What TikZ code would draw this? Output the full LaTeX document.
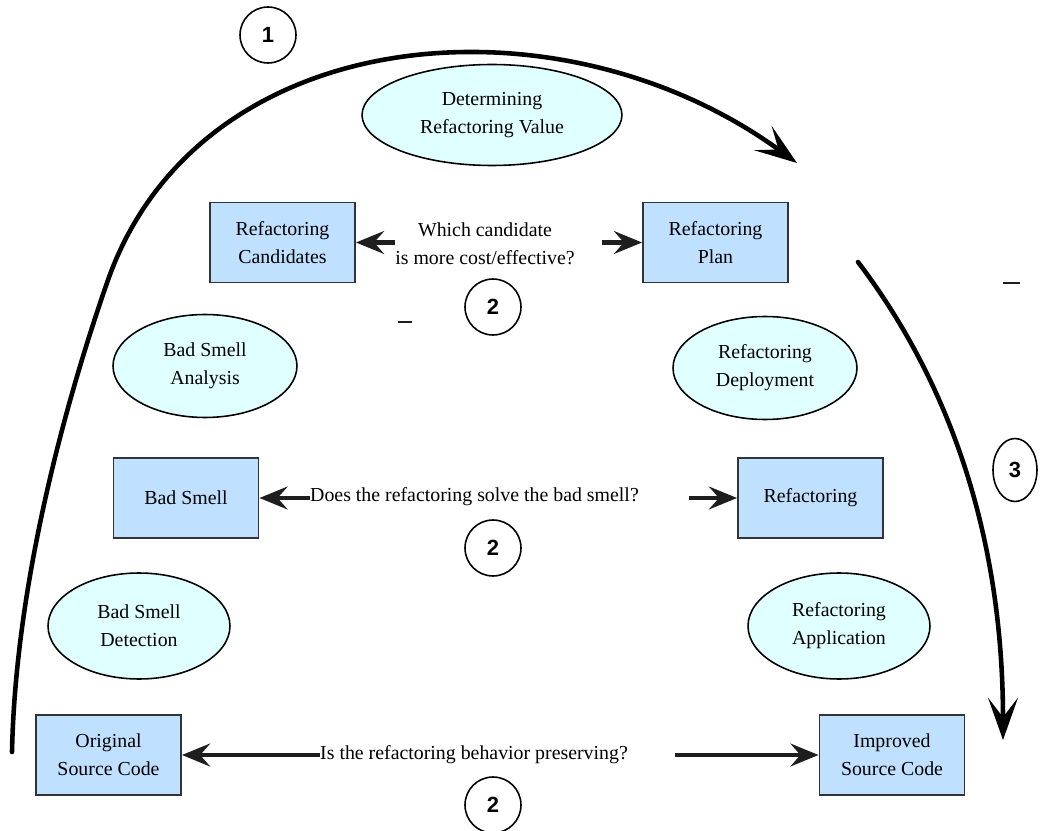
\documentclass[tikz,border=0pt]{standalone}
\usepackage{fontspec}
\setmainfont{Liberation Serif}
\newfontfamily\labelserif{Liberation Serif}
\newfontfamily\numfont{Liberation Sans}
\usetikzlibrary{arrows.meta,shapes.geometric,calc}

\definecolor{boxfill}{RGB}{191,224,255}
\definecolor{boxline}{RGB}{50,50,55}
\definecolor{ovalfill}{RGB}{224,255,255}
\definecolor{ink}{RGB}{30,30,30}

\tikzset{
  txt/.style={font=\labelserif\fontsize{11.3}{15.9}\selectfont, align=center, text=black},
  stagebox/.style={txt, draw=boxline, line width=1.1pt, fill=boxfill,
    minimum width=2.9cm, minimum height=1.6cm, inner sep=0pt},
  activity/.style={txt, ellipse, draw=black, line width=0.9pt, fill=ovalfill, inner sep=0pt},
  question/.style={txt, inner sep=0pt},
  stepnum/.style={circle, draw=black, line width=0.9pt, minimum size=1.12cm, inner sep=0pt,
    font=\numfont\bfseries\fontsize{12.5}{14}\selectfont},
  conn/.style={draw=ink, line width=2.3pt,
    -{Stealth[length=16pt, width=13pt, inset=5.7pt]}},
  flow/.style={draw=black, line width=2.6pt, line cap=round,
    -{Stealth[length=24pt, width=17pt, inset=11pt]}},
}

\begin{document}
\begin{tikzpicture}[x=0.02cm, y=-0.02cm]
\useasboundingbox (0,0) rectangle (1042,831);

% activities
\node[activity, minimum width=5.2cm, minimum height=2.02cm] (drv) at (492,115) {Determining\\Refactoring Value};
\node[activity, minimum width=3.68cm, minimum height=2.06cm] (bsa) at (205,366) {Bad Smell\\Analysis};
\node[activity, minimum width=3.68cm, minimum height=2.06cm] (rdep) at (765,368) {Refactoring\\Deployment};
\node[activity, minimum width=3.64cm, minimum height=2.12cm] (bsd) at (139,626) {Bad Smell\\Detection};
\node[activity, minimum width=3.64cm, minimum height=2.12cm] (rapp) at (839,626) {Refactoring\\Application};

% artefacts
\node[stagebox] (cand) at (282.5,242.5) {Refactoring\\Candidates};
\node[stagebox] (plan) at (715.5,242.5) {Refactoring\\Plan};
\node[stagebox] (bs)   at (186,498) {Bad Smell};
\node[stagebox] (rf)   at (810.5,498) {Refactoring};
\node[stagebox] (orig) at (108.5,755) {Original\\Source Code};
\node[stagebox] (impr) at (892,755) {Improved\\Source Code};

% questions between artefacts
\node[question] (q1) at (485,244) {Which candidate\\is more cost/effective?};
\node[question] (q2) at (474.5,497) {Does the refactoring solve the bad smell?};
\node[question] (q3) at (474,755) {Is the refactoring behavior preserving?};

\draw[conn] (q1.west |- cand.east) -- (cand.east);
\draw[conn] ($(q1.east |- plan.west)+(27,0)$) -- (plan.west);
\draw[conn] (q2.west |- bs.east) -- (bs.east);
\draw[conn] ($(q2.east |- rf.west)+(50,0)$) -- (rf.west);
\draw[conn] (q3.west |- orig.east) -- (orig.east);
\draw[conn] ($(q3.east |- impr.west)+(47,0)$) -- (impr.west);

% step numbers
\node[stepnum] (s1) at (268,35) {1};
\node[stepnum] (s2a) at (493,307) {2};
\node[stepnum] (s2b) at (493,548) {2};
\node[stepnum] (s2c) at (493,805) {2};
\node[stepnum, ellipse, minimum width=0.88cm, minimum height=1.26cm] (s3) at (1015,470) {3};

% process flow
\coordinate (f1a) at (12,752);
\coordinate (f1b) at (108,280);
\coordinate (f1c) at (797,163);
\draw[flow] (f1a) .. controls (16,560) and (80,360) .. (f1b)
  .. controls (200,20) and (560,-10) .. (f1c);
\coordinate (f3a) at (858,262);
\coordinate (f3b) at (1003,740);
\draw[flow] (f3a) .. controls (940,370) and (1003,520) .. (f3b);

% small marks
\coordinate (m1a) at (398,322);
\coordinate (m1b) at (412,322);
\draw[line width=1.3pt, ink] (m1a) -- (m1b);
\coordinate (m2a) at (1003,283);
\coordinate (m2b) at (1020,283);
\draw[line width=1.3pt, ink] (m2a) -- (m2b);
\end{tikzpicture}
\end{document}
